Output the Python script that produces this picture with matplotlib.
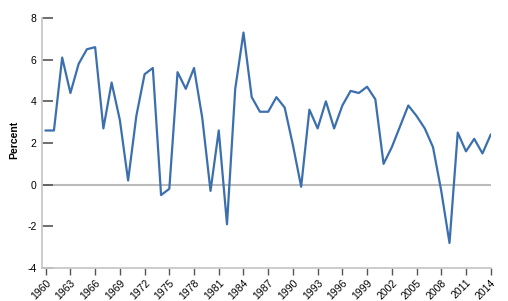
import matplotlib
matplotlib.use("Agg")
import matplotlib.pyplot as plt

plt.rcParams["font.family"] = ["Liberation Sans", "DejaVu Sans"]

years = list(range(1960, 2015))
growth = [2.6, 2.6, 6.1, 4.4, 5.8, 6.5, 6.6, 2.7, 4.9, 3.1,
          0.2, 3.3, 5.3, 5.6, -0.5, -0.2, 5.4, 4.6, 5.6, 3.2,
          -0.3, 2.6, -1.9, 4.6, 7.3, 4.2, 3.5, 3.5, 4.2, 3.7,
          1.9, -0.1, 3.6, 2.7, 4.0, 2.7, 3.8, 4.5, 4.4, 4.7,
          4.1, 1.0, 1.8, 2.8, 3.8, 3.3, 2.7, 1.8, -0.3, -2.8,
          2.5, 1.6, 2.2, 1.5, 2.4]
xticks = list(range(1960, 2015, 3))
yticks = [-4, -2, 0, 2, 4, 6, 8]

W, H = 508, 301
fig = plt.figure(figsize=(W/100, H/100), dpi=100)
ax = fig.add_axes([42/W, (H-268)/H, (491-42)/W, (268-18)/H])

ax.axhline(0, color="#bbbbbb", lw=1.5, zorder=1)
ax.plot(years, growth, color="#3b6fae", lw=1.6, zorder=2)

ppy = (490.7-45.7)/54
ax.set_xlim(1960 - (45.7-42)/ppy, 2014 + (491-490.7)/ppy)
ax.set_ylim(-4, 8)

for s in ["top", "right"]:
    ax.spines[s].set_visible(False)
for s in ["left", "bottom"]:
    ax.spines[s].set_color("#c8c8c8")
    ax.spines[s].set_linewidth(1.3)

ax.set_yticks(yticks)
ax.set_yticklabels([str(v) for v in yticks])
ax.tick_params(axis="y", direction="in", length=8, width=1.2, color="#555555",
               labelsize=7.5, pad=4)
ax.set_xticks(xticks)
ax.set_xticklabels([str(v) for v in xticks], rotation=45, ha="right",
                   rotation_mode="anchor")
ax.tick_params(axis="x", direction="out", length=5, width=1, color="#555555",
               labelsize=7.5, pad=2)
fig.text(14/W, 1 - 140/H, "Percent", rotation=90, ha="center", va="center",
         fontsize=7.5, fontweight="bold")

fig.savefig("out.png", dpi=100)
